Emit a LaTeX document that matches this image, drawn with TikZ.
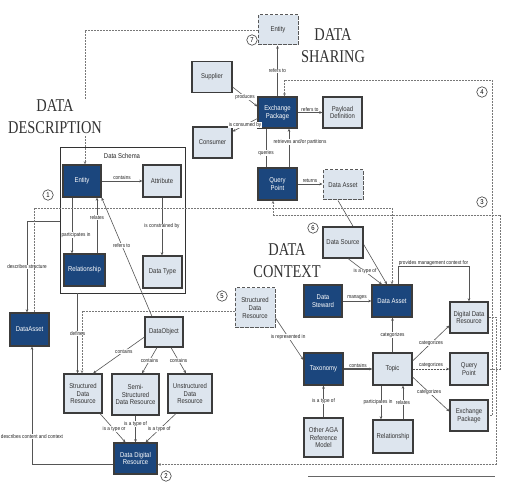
\documentclass[tikz,border=0pt]{standalone}
\usepackage{fontspec}
\setmainfont{Liberation Serif}
\newfontfamily\boxfont[FakeStretch=0.85]{Liberation Sans}
\newfontfamily\headfont[FakeStretch=0.8]{Liberation Serif}
\usetikzlibrary{arrows.meta,calc,backgrounds}
\definecolor{navy}{RGB}{27,70,125}
\definecolor{pale}{RGB}{221,229,238}
\definecolor{edgec}{RGB}{60,60,60}
\definecolor{wire}{RGB}{85,85,85}
\definecolor{loopc}{RGB}{120,120,120}
\begin{document}
\begin{tikzpicture}[x=1pt,y=-1pt,
  sz/.style 2 args={minimum width=#1pt,minimum height=#2pt},
  base/.style={rectangle, line width=1.1pt, inner sep=1pt, align=center, font=\boxfont\fontsize{7}{7.8}\selectfont},
  darkbox/.style={base, draw=edgec, fill=navy, text=white},
  lightbox/.style={base, draw=edgec, fill=pale, text=black!80},
  refbox/.style={base, draw=edgec!85, line width=1pt, fill=pale, text=black!80, dash pattern=on 3.5pt off 1.5pt},
  frame/.style={rectangle, draw=black!80, line width=0.8pt, inner sep=0pt},
  num/.style={circle, draw=black!75, line width=0.6pt, inner sep=0pt, minimum size=10.5pt, font=\boxfont\fontsize{7}{7}\selectfont},
  head/.style={font=\headfont\fontsize{18}{22}\selectfont, align=center, text=black!80, inner sep=1pt},
  lbl/.style={font=\boxfont\fontsize{5.5}{6}\selectfont, fill=white, inner sep=0.4pt, text=black!85},
  conn/.style={draw=wire, line width=0.6pt, -{Stealth[length=3.2pt,width=2.6pt]}},
  plain/.style={draw=wire, line width=0.6pt},
  loopl/.style={draw=loopc, line width=0.7pt, dash pattern=on 2pt off 1pt},
  tipend/.style={-{Stealth[length=3.2pt,width=2.6pt]}},
  tipstart/.style={{Stealth[length=3.2pt,width=2.6pt]}-},
]
\useasboundingbox (0,0) rectangle (509,486);

% ---------- DATA SHARING ----------
\node[refbox, sz={40}{30}] (entS) at (278,30) {Entity};
\node[lightbox, sz={40}{31}] (sup) at (212,77) {Supplier};
\node[darkbox, sz={39}{31}] (exS) at (277.5,112.5) {Exchange\\Package};
\node[lightbox, sz={39}{31}] (pay) at (342.5,112.5) {Payload\\Definition};
\node[lightbox, sz={39}{31}] (con) at (212.5,142.5) {Consumer};
\node[darkbox, sz={39}{32}] (qpS) at (277.5,184) {Query\\Point};
\node[refbox, sz={40}{30}] (daS) at (343,185) {Data Asset};

% ---------- DATA DESCRIPTION ----------
\node[frame, sz={125}{146}] (schema) at (122.5,220) {};
\node[font=\boxfont\fontsize{7}{7}\selectfont, text=black!85, inner sep=0.5pt] (schemaT) at (122,156) {Data Schema};
\node[darkbox, sz={38}{32}] (entD) at (82,181) {Entity};
\node[lightbox, sz={38}{32}] (attr) at (162,181) {Attribute};
\node[darkbox, sz={41}{32}] (relD) at (84.5,270) {Relationship};
\node[lightbox, sz={39}{32}] (dtype) at (162.5,272) {Data Type};
\node[darkbox, sz={39}{33}] (daL) at (29.5,329.5) {DataAsset};
\node[lightbox, sz={38}{30}] (dobj) at (164,332) {DataObject};
\node[lightbox, sz={38}{39}] (sdrD) at (83,393.5) {Structured\\Data\\Resource};
\node[lightbox, sz={47}{41}] (semi) at (135.5,394.5) {Semi-\\Structured\\Data Resource};
\node[lightbox, sz={44}{39}] (uns) at (190,393.5) {Unstructured\\Data\\Resource};
\node[darkbox, sz={43}{31}] (ddr) at (135.5,458.5) {Data Digital\\Resource};

% ---------- DATA CONTEXT ----------
\node[lightbox, sz={40}{31}] (dsrc) at (343,242.5) {Data Source};
\node[refbox, sz={40}{40}] (sdrC) at (255,308) {Structured\\Data\\Resource};
\node[darkbox, sz={38}{32}] (stew) at (323,301) {Data\\Steward};
\node[darkbox, sz={40}{32}] (daC) at (392,301) {Data Asset};
\node[lightbox, sz={38}{31}] (digr) at (469,317.5) {Digital Data\\Resource};
\node[darkbox, sz={39}{32}] (tax) at (323.5,369) {Taxonomy};
\node[lightbox, sz={39}{32}] (topic) at (392.5,369) {Topic};
\node[lightbox, sz={38}{32}] (qpC) at (469,369) {Query\\Point};
\node[lightbox, sz={38}{31}] (exC) at (469,415.5) {Exchange\\Package};
\node[lightbox, sz={40}{33}] (relC) at (393,436.5) {Relationship};
\node[lightbox, sz={39}{39}] (aga) at (323.5,437.5) {Other AGA\\Reference\\Model};

% ---------- background layer ----------
\begin{scope}[on background layer]
\fill[white] (0,0) rectangle (509,486);
\draw[conn] ($(daS.south)+(-5,0)$) -- ($(daC.north)+(-5,0)$);
\end{scope}

% ---------- sharing connectors ----------
\draw[conn] (exS.north) -- node[lbl]{refers to} (exS.north |- entS.south);
\draw[conn] ($(sup.east)+(0,10)$) -- node[lbl]{produces} ($(exS.west)+(0,-6)$);
\draw[conn] ($(exS.west)+(0,6)$) -- node[lbl]{is consumed by} ($(con.east)+(0,-11)$);
\draw[conn] (exS.east) -- node[lbl, above=0.5pt]{refers to} (pay.west);
\path ($(qpS.north)+(-11.5,0)$) coordinate (q1) ($(qpS.north)+(11.5,0)$) coordinate (q2);
\draw[plain] (q1) -- node[lbl, pos=0.38]{queries} (q1 |- exS.south);
\draw[conn] (q2) -- node[lbl, pos=0.66, xshift=11pt]{retrieves and/or partitions} (q2 |- exS.south);
\draw[conn] (qpS.east) -- node[lbl, above=0.5pt]{returns} (qpS.east -| daS.west);
\draw[conn] ($(dsrc.south)+(5,0)$) -- node[lbl]{is a type of} ($(daC.north)+(-10,0)$);

% ---------- description connectors ----------
\draw[conn] (entD.east) -- node[lbl, above=0.5pt]{contains} (attr.west);
\draw[conn] (attr.south) -- node[lbl]{is constrained by} (attr.south |- dtype.north);
\path ($(entD.south)+(-10,0)$) coordinate (e1) ($(entD.south)+(15,0)$) coordinate (e2);
\draw[conn] (e1) -- node[lbl, pos=0.67, xshift=4pt]{participates in} (e1 |- relD.north);
\draw[conn] (e2 |- relD.north) -- node[lbl, pos=0.65]{relates} (e2);
\draw[conn] ($(dobj.north)+(-12,0)$) -- node[lbl, pos=0.6]{refers to} (entD.south east);
\draw[conn] ($(schema.north west)+(0,75)$) -| node[lbl, pos=0.75]{describes structure} ($(daL.north)+(-2.5,0)$);
\path (schema.south west) ++(18,0) coordinate (dfs);
\draw[conn] (dfs) -- node[lbl]{defines} (dfs |- sdrD.north);
\draw[conn] ($(dobj.west)+(0,5)$) -- node[lbl, pos=0.4]{contains} ($(sdrD.north)+(10,0)$);
\draw[conn] ($(dobj.south)+(-7,0)$) -- node[lbl]{contains} ($(semi.north)+(6.5,0)$);
\draw[conn] ($(dobj.south)+(7,0)$) -- node[lbl]{contains} ($(uns.north)+(-4,0)$);
\draw[conn] ($(sdrD.south)+(17,0)$) -- node[lbl, pos=0.55]{is a type of} ($(ddr.north)+(-10,0)$);
\draw[conn] (semi.south) -- node[lbl, pos=0.3]{is a type of} (ddr.north);
\draw[conn] ($(uns.south)+(-14,0)$) -- node[lbl, pos=0.55]{is a type of} ($(ddr.north)+(10,0)$);
\draw[conn] ($(ddr.west)+(0,6)$) -| node[lbl, pos=0.62]{describes content and context} ($(daL.south)+(2.5,0)$);

% ---------- context connectors ----------
\draw[conn] (stew.east) -- node[lbl, above=0.5pt]{manages} (daC.west);
\draw[conn] ($(daC.north)+(6,0)$) -- ++(0,-18) -| node[lbl, above=0.3pt, pos=0.25]{provides management context for} (digr.north);
\draw[conn] (topic.north) -- node[lbl]{categorizes} (topic.north |- daC.south);
\draw[conn] ($(topic.east)+(0,-8)$) -- node[lbl]{categorizes} ($(digr.west)+(0,8)$);
\draw[conn, dash pattern=on 2pt off 1pt] (topic.east) -- node[lbl, above=0.5pt]{categorizes} (qpC.west);
\draw[conn] ($(topic.east)+(0,8)$) -- node[lbl, pos=0.45]{categorizes} ($(exC.west)+(0,-4)$);
\path ($(topic.south)+(-11.5,0)$) coordinate (t1) ($(topic.south)+(10.5,0)$) coordinate (t2);
\draw[conn] (t1) -- node[lbl, xshift=-3pt]{participates in} (t1 |- relC.north);
\draw[conn] (t2 |- relC.north) -- node[lbl]{relates} (t2);
\draw[conn, line width=1.2pt] (tax.east) -- node[lbl, above=0.5pt]{contains} (topic.west);
\draw[conn] (aga.north) -- node[lbl]{is a type of} (tax.south);
\draw[conn] ($(sdrC.east)+(0,10)$) -- node[lbl, pos=0.45]{is represented in} ($(tax.west)+(0,-9)$);

% ---------- cross-view links ----------
\draw[loopl, tipend] (entS.west) -| ($(entD.north)+(3,0)$);
\coordinate (c4) at (492,80);
\draw[loopl, tipstart] ($(exS.north)+(7,0)$) |- (c4) |- (exC.east);
\coordinate (c3) at (500,215);
\draw[loopl, tipstart] ($(qpS.south)+(-4.5,0)$) |- (c3) |- (qpC.east);
\coordinate (c2) at (496,464.5);
\draw[loopl, tipend] (digr.east) -| (c2) -- ($(ddr.east)+(0,6)$);
\coordinate (c1) at (392,208);
\draw[loopl, tipend] ($(daL.north)+(5,0)$) |- (c1) -- (daC.north);
\draw[loopl, tipend] ($(sdrC.west)+(0,3)$) -| ($(sdrD.north)+(-1,0)$);

% ---------- numbered markers ----------
\node[num] (n7) at (252,40) {7};
\node[num] (n1) at (48,195) {1};
\node[num] (n4) at (482,92) {4};
\node[num] (n3) at (482,202) {3};
\node[num] (n6) at (313,228) {6};
\node[num] (n5) at (222,296) {5};
\node[num] (n2) at (166,476) {2};

% ---------- bottom rule ----------
\coordinate (r1) at (308,476);
\coordinate (r2) at (495,476);
\draw[black!60, line width=0.8pt] (r1) -- (r2);

% ---------- headings ----------
\node[head] (hS) at (333,46) {DATA\\SHARING};
\node[head, fill=white] (hD) at (55,117) {DATA\\DESCRIPTION};
\node[head] (hC) at (287,261) {DATA\\CONTEXT};
\end{tikzpicture}
\end{document}
